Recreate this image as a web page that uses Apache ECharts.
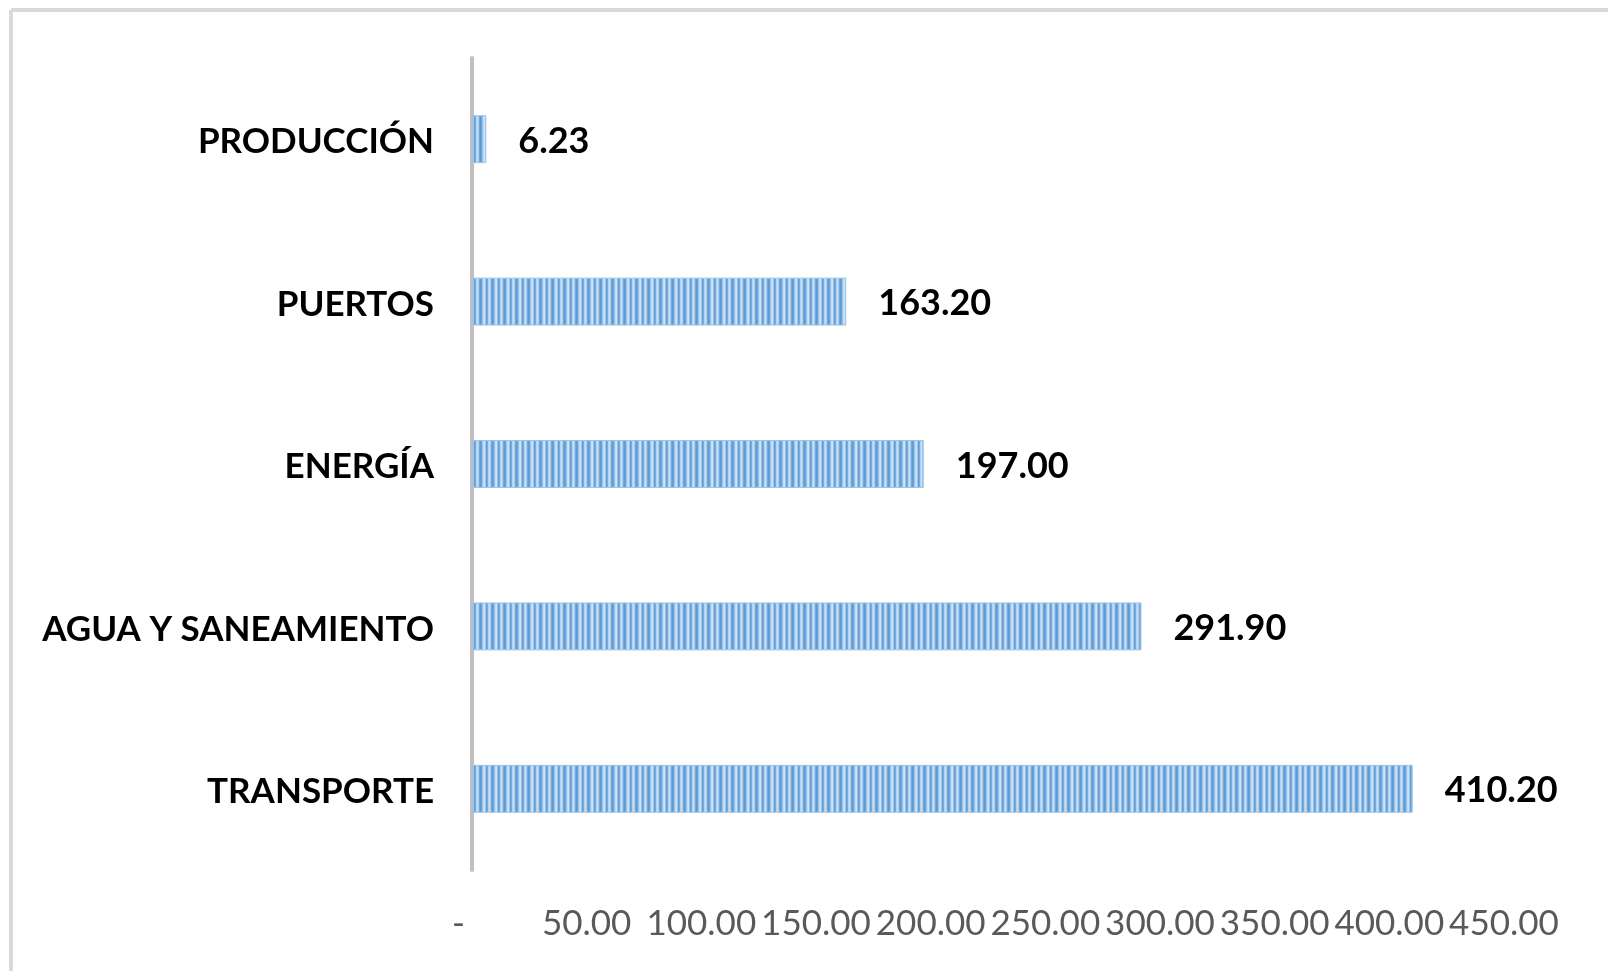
<!DOCTYPE html>
<html>
<head>
<meta charset="utf-8">
<style>
  html, body { margin: 0; padding: 0; background: #fff; }
  #chart { width: 1608px; height: 971px; }
</style>
<script src="https://cdn.jsdelivr.net/npm/echarts@6/dist/echarts.min.js"></script>
</head>
<body>
<div id="chart"></div>
<script>
// categories, bottom to top like Excel draws them
const categories = ["TRANSPORTE", "AGUA Y SANEAMIENTO", "ENERGÍA", "PUERTOS", "PRODUCCIÓN"];
const values = [410.2, 291.9, 197.0, 163.2, 6.23];
const tickValues = [0, 50, 100, 150, 200, 250, 300, 350, 400, 450];

// vertical stripe fill like the office pattern
function stripePattern() {
    const c = document.createElement("canvas");
    c.width = 12;
    c.height = 4;
    const ctx = c.getContext("2d");
    const cols = ["#5b9bd5", "#6aa5db", "#99c2e8", "#c4dbf2", "#cfe2f5", "#9dc5e9",
                  "#619fd7", "#78aede", "#b3d1ee", "#c9def3", "#a8cbeb", "#74abdd"];
    cols.forEach((col, i) => {
        ctx.fillStyle = col;
        ctx.fillRect(i, 0, 1, 4);
    });
    return c;
}

const chart = echarts.init(document.getElementById("chart"));
const font = "Lato, 'Open Sans', sans-serif";

chart.setOption({
    backgroundColor: "#fff",
    animation: false,
    grid: { left: 472, right: 104, top: 58, bottom: 101, containLabel: false },
    xAxis: {
        type: "value",
        min: 0,
        max: 450,
        interval: 50,
        axisLine: { show: false },
        axisTick: { show: false },
        splitLine: { show: false },
        axisLabel: {
            margin: 36,
            color: "#595959",
            fontFamily: font,
            fontSize: 35,
            formatter: v => (v === 0 ? "-   " : v.toFixed(2))
        }
    },
    yAxis: {
        type: "category",
        data: categories,
        axisLine: { show: true, lineStyle: { color: "#bfbfbf", width: 4 } },
        axisTick: { show: false },
        axisLabel: {
            margin: 38,
            formatter: v => "{c|" + v + "}",
            rich: {
                c: {
                    color: "#000",
                    fontWeight: "bold",
                    fontFamily: font,
                    fontSize: 35,
                    padding: [6, 0, 0, 0]
                }
            }
        }
    },
    series: [{
        type: "bar",
        data: values,
        barWidth: "29.5%",
        itemStyle: {
            color: { image: stripePattern(), repeat: "repeat" },
            borderColor: "#9dc3e6",
            borderWidth: 1
        },
        label: {
            show: true,
            position: "right",
            distance: 32,
            offset: [0, 2],
            color: "#000",
            fontWeight: "bold",
            fontFamily: font,
            fontSize: 36,
            formatter: p => p.value.toFixed(2)
        }
    }],
    graphic: [
        { type: "line", shape: { x1: 11, y1: 10, x2: 1608, y2: 10 }, style: { stroke: "#d9d9d9", lineWidth: 4 } },
        { type: "line", shape: { x1: 11, y1: 10, x2: 11, y2: 971 }, style: { stroke: "#d9d9d9", lineWidth: 4 } }
    ]
});
</script>
</body>
</html>
